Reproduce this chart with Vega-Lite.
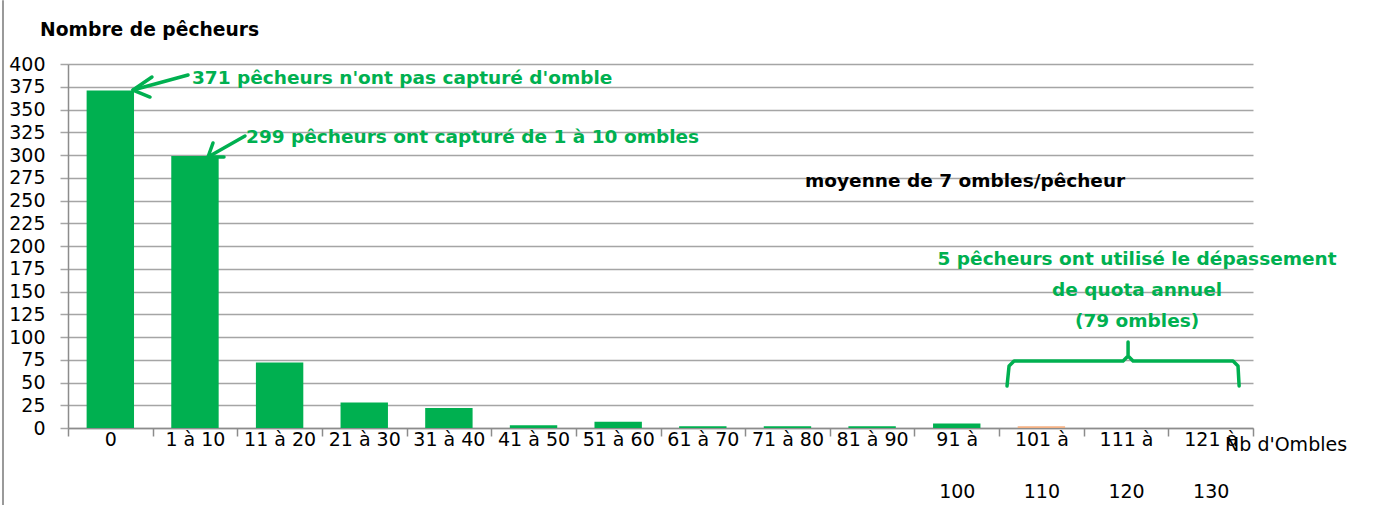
{
  "$schema": "https://vega.github.io/schema/vega-lite/v6.json",
  "width": 1185,
  "height": 364,
  "autosize": {"type": "none"},
  "padding": {"left": 68, "top": 64, "right": 123, "bottom": 77},
  "background": "white",
  "config": {"view": {"stroke": null}, "font": "DejaVu Sans"},
  "datasets": {
    "barres": [
      {"classe": "0", "pecheurs": 371, "groupe": "normal"},
      {"classe": "1 à 10", "pecheurs": 299, "groupe": "normal"},
      {"classe": "11 à 20", "pecheurs": 72, "groupe": "normal"},
      {"classe": "21 à 30", "pecheurs": 28, "groupe": "normal"},
      {"classe": "31 à 40", "pecheurs": 22, "groupe": "normal"},
      {"classe": "41 à 50", "pecheurs": 3, "groupe": "normal"},
      {"classe": "51 à 60", "pecheurs": 7, "groupe": "normal"},
      {"classe": "61 à 70", "pecheurs": 2, "groupe": "normal"},
      {"classe": "71 à 80", "pecheurs": 2, "groupe": "normal"},
      {"classe": "81 à 90", "pecheurs": 2, "groupe": "normal"},
      {"classe": "91 à 100", "pecheurs": 5, "groupe": "normal"},
      {"classe": "101 à 110", "pecheurs": 2, "groupe": "dépassement"},
      {"classe": "111 à 120", "pecheurs": 0, "groupe": "dépassement"},
      {"classe": "121 à 130", "pecheurs": 0, "groupe": "dépassement"}
    ],
    "traits": [
      {"trait": "f1", "ordre": 1, "v": 1.418, "y": 387.9},
      {"trait": "f1", "ordre": 2, "v": 0.768, "y": 371.4},
      {"trait": "f1h", "ordre": 1, "v": 0.992, "y": 385.7},
      {"trait": "f1h", "ordre": 2, "v": 0.768, "y": 371.4},
      {"trait": "f1h", "ordre": 3, "v": 0.969, "y": 363.7},
      {"trait": "f2", "ordre": 1, "v": 2.091, "y": 320.9},
      {"trait": "f2", "ordre": 2, "v": 1.654, "y": 297.8},
      {"trait": "f2h", "ordre": 1, "v": 1.713, "y": 313.2},
      {"trait": "f2h", "ordre": 2, "v": 1.654, "y": 297.8},
      {"trait": "f2h", "ordre": 3, "v": 1.843, "y": 297.8},
      {"trait": "acc", "ordre": 1, "v": 11.094, "y": 46.2},
      {"trait": "acc", "ordre": 2, "v": 11.118, "y": 68.1},
      {"trait": "acc", "ordre": 3, "v": 11.177, "y": 73.6},
      {"trait": "acc", "ordre": 4, "v": 12.465, "y": 73.6},
      {"trait": "acc", "ordre": 5, "v": 12.524, "y": 79.1},
      {"trait": "acc", "ordre": 6, "v": 12.524, "y": 94.5},
      {"trait": "acc", "ordre": 7, "v": 12.524, "y": 79.1},
      {"trait": "acc", "ordre": 8, "v": 12.583, "y": 73.6},
      {"trait": "acc", "ordre": 9, "v": 13.764, "y": 73.6},
      {"trait": "acc", "ordre": 10, "v": 13.823, "y": 68.1},
      {"trait": "acc", "ordre": 11, "v": 13.836, "y": 46.2}
    ],
    "bord": [
      {"ordre": 1, "v": -0.768, "y": 470},
      {"ordre": 2, "v": -0.768, "y": -85}
    ],
    "notesVertes": [
      {"texte": "371 pêcheurs n'ont pas capturé d'omble", "v": 1.465, "y": 384.6},
      {"texte": "299 pêcheurs ont capturé de 1 à 10 ombles", "v": 2.103, "y": 319.8}
    ],
    "noteQuota": [
      {"texte": ["5 pêcheurs ont utilisé le dépassement", "de quota annuel", "(79 ombles)"], "v": 12.63, "y": 185.7}
    ],
    "noteMoyenne": [
      {"texte": "moyenne de 7 ombles/pêcheur", "v": 8.708, "y": 271.4}
    ],
    "titreY": [
      {"texte": "Nombre de pêcheurs", "v": -0.33, "y": 437.4}
    ],
    "titreX": [
      {"texte": "Nb d'Ombles", "v": 13.67, "y": -18.7}
    ]
  },
  "layer": [
    {
      "data": {"name": "barres"},
      "mark": {"type": "bar", "width": {"band": 0.56}},
      "encoding": {
        "x": {
          "field": "classe", "type": "nominal", "sort": null,
          "scale": {"paddingInner": 0, "paddingOuter": 0},
          "axis": {
            "title": null, "labelAngle": 0, "tickBand": "extent", "tickSize": 8,
            "domainColor": "#8c8c8c", "tickColor": "#8c8c8c", "domainWidth": 1.5, "tickWidth": 1.5,
            "labelFont": "DejaVu Sans", "labelFontSize": 19, "labelColor": "#000000",
            "labelPadding": -6, "labelLineHeight": 52, "labelOverlap": false, "labelBound": false,
            "labelExpr": "length(datum.label) >= 8 ? [slice(datum.label, 0, indexof(datum.label, 'à') + 1), slice(datum.label, indexof(datum.label, 'à') + 2)] : datum.label"
          }
        },
        "y": {
          "field": "pecheurs", "type": "quantitative",
          "scale": {"domain": [0, 400], "nice": false},
          "axis": {
            "title": null,
            "values": [0, 25, 50, 75, 100, 125, 150, 175, 200, 225, 250, 275, 300, 325, 350, 375, 400],
            "grid": true, "gridColor": "#a5a5a5", "gridWidth": 1.5,
            "domainColor": "#8c8c8c", "domainWidth": 1.5, "tickColor": "#a5a5a5", "tickWidth": 1.5, "tickSize": 8,
            "labelFont": "DejaVu Sans", "labelFontSize": 19, "labelColor": "#000000", "labelPadding": 15,
            "labelOverlap": false, "labelBound": false
          }
        },
        "color": {
          "field": "groupe", "type": "nominal",
          "scale": {"domain": ["normal", "dépassement"], "range": ["#00B050", "#F4B183"]},
          "legend": null
        }
      }
    },
    {
      "layer": [
        {
          "data": {"name": "bord"},
          "mark": {"type": "line", "color": "#9a9a9a", "strokeWidth": 2, "clip": false},
          "encoding": {
            "x": {"field": "v", "type": "quantitative", "scale": {"domain": [0, 14], "nice": false, "zero": false}, "axis": null},
            "y": {"field": "y", "type": "quantitative", "scale": {"domain": [0, 400], "nice": false}, "axis": null},
            "order": {"field": "ordre"}
          }
        },
        {
          "data": {"name": "traits"},
          "mark": {"type": "line", "color": "#00B050", "strokeWidth": 3.5, "strokeCap": "round", "strokeJoin": "round", "clip": false},
          "encoding": {
            "x": {"field": "v", "type": "quantitative", "axis": null},
            "y": {"field": "y", "type": "quantitative", "axis": null},
            "detail": {"field": "trait"},
            "order": {"field": "ordre"}
          }
        },
        {
          "data": {"name": "notesVertes"},
          "mark": {"type": "text", "align": "left", "baseline": "middle", "font": "DejaVu Sans", "fontSize": 18.5, "fontWeight": "bold", "color": "#00B050"},
          "encoding": {
            "x": {"field": "v", "type": "quantitative", "axis": null},
            "y": {"field": "y", "type": "quantitative", "axis": null},
            "text": {"field": "texte"}
          }
        },
        {
          "data": {"name": "noteQuota"},
          "mark": {"type": "text", "align": "center", "baseline": "middle", "lineHeight": 31, "font": "DejaVu Sans", "fontSize": 18.5, "fontWeight": "bold", "color": "#00B050"},
          "encoding": {
            "x": {"field": "v", "type": "quantitative", "axis": null},
            "y": {"field": "y", "type": "quantitative", "axis": null},
            "text": {"field": "texte"}
          }
        },
        {
          "data": {"name": "noteMoyenne"},
          "mark": {"type": "text", "align": "left", "baseline": "middle", "font": "DejaVu Sans", "fontSize": 18.5, "fontWeight": "bold", "color": "#000000"},
          "encoding": {
            "x": {"field": "v", "type": "quantitative", "axis": null},
            "y": {"field": "y", "type": "quantitative", "axis": null},
            "text": {"field": "texte"}
          }
        },
        {
          "data": {"name": "titreY"},
          "mark": {"type": "text", "align": "left", "baseline": "middle", "font": "DejaVu Sans", "fontSize": 18.7, "fontWeight": "bold", "color": "#000000"},
          "encoding": {
            "x": {"field": "v", "type": "quantitative", "axis": null},
            "y": {"field": "y", "type": "quantitative", "axis": null},
            "text": {"field": "texte"}
          }
        },
        {
          "data": {"name": "titreX"},
          "mark": {"type": "text", "align": "left", "baseline": "middle", "font": "DejaVu Sans", "fontSize": 19, "color": "#000000"},
          "encoding": {
            "x": {"field": "v", "type": "quantitative", "axis": null},
            "y": {"field": "y", "type": "quantitative", "axis": null},
            "text": {"field": "texte"}
          }
        }
      ]
    }
  ],
  "resolve": {"scale": {"x": "independent"}, "axis": {"y": "independent"}}
}
